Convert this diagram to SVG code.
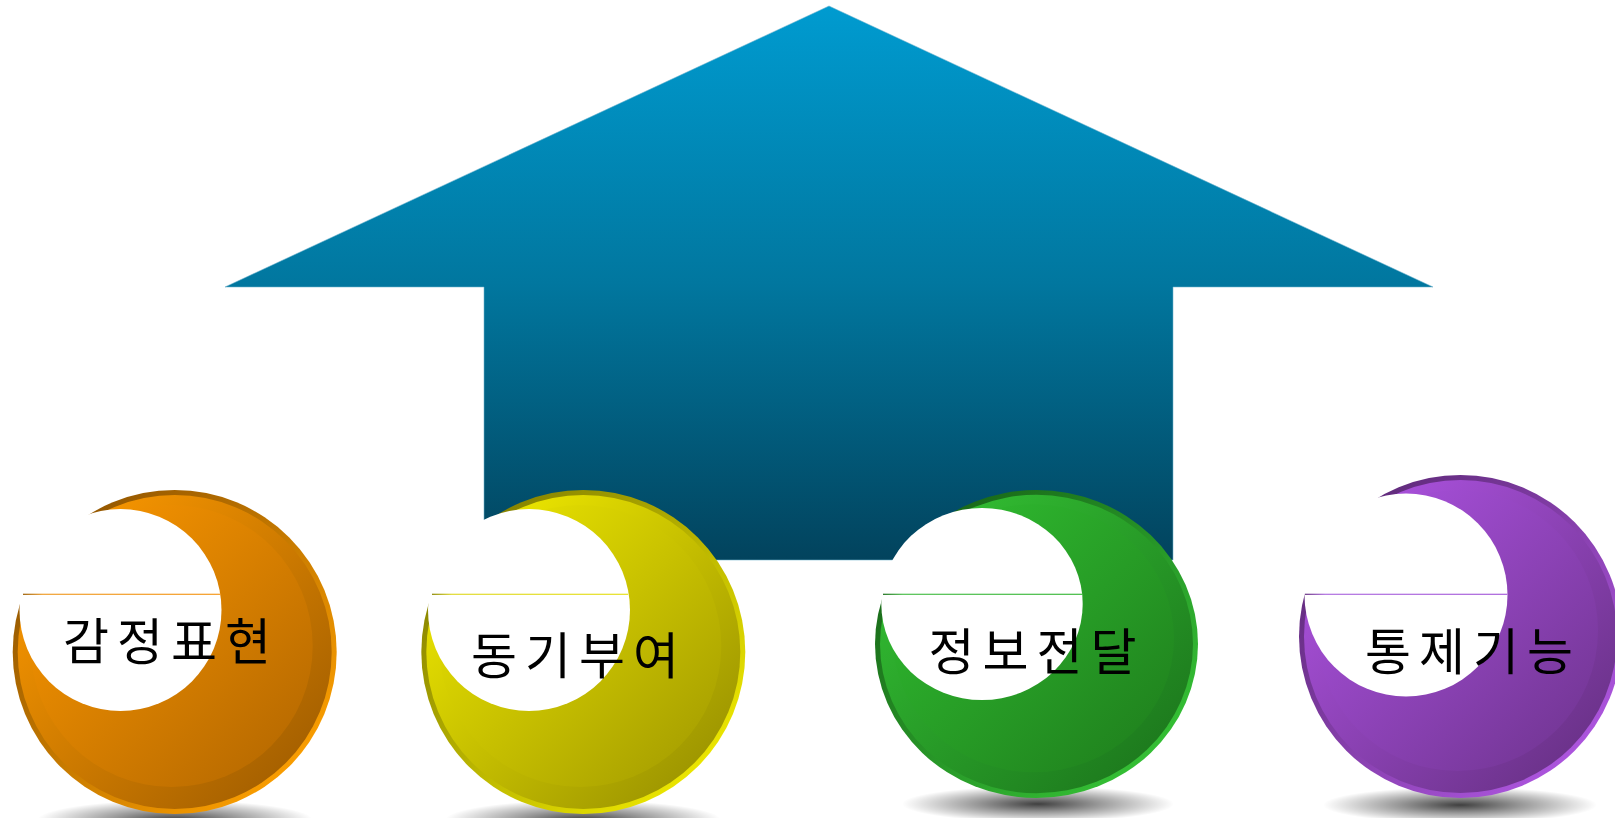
<svg xmlns="http://www.w3.org/2000/svg" width="1615" height="818" viewBox="0 0 1615 818">
<defs>
  <linearGradient id="arrowGrad" x1="0" y1="0" x2="0" y2="1">
    <stop offset="0" stop-color="#009BD0"/>
    <stop offset="0.5" stop-color="#01779F"/>
    <stop offset="1" stop-color="#02435D"/>
  </linearGradient>
  <radialGradient id="shadow" cx="0.5" cy="0.5" r="0.5">
    <stop offset="0" stop-color="#000" stop-opacity="0.75"/>
    <stop offset="0.45" stop-color="#000" stop-opacity="0.4"/>
    <stop offset="1" stop-color="#000" stop-opacity="0"/>
  </radialGradient>
  <!-- orange -->
  <linearGradient id="oOuter" x1="0.15" y1="0.15" x2="0.85" y2="0.85"><stop offset="0" stop-color="#955800"/><stop offset="1" stop-color="#F89C00"/></linearGradient>
  <linearGradient id="oBand" x1="0.15" y1="0.15" x2="0.85" y2="0.85"><stop offset="0" stop-color="#F59400"/><stop offset="1" stop-color="#A86200"/></linearGradient>
  <linearGradient id="oInner" x1="0.15" y1="0.15" x2="0.85" y2="0.85"><stop offset="0" stop-color="#F29100"/><stop offset="1" stop-color="#BC6D00"/></linearGradient>
  <linearGradient id="oLine" x1="0" y1="0" x2="1" y2="0"><stop offset="0" stop-color="#9A5C00"/><stop offset="0.1" stop-color="#F0A030"/><stop offset="1" stop-color="#F59A20"/></linearGradient>
  <!-- yellow -->
  <linearGradient id="yOuter" x1="0.15" y1="0.15" x2="0.85" y2="0.85"><stop offset="0" stop-color="#878300"/><stop offset="1" stop-color="#EAE400"/></linearGradient>
  <linearGradient id="yBand" x1="0.15" y1="0.15" x2="0.85" y2="0.85"><stop offset="0" stop-color="#EAE400"/><stop offset="1" stop-color="#A09800"/></linearGradient>
  <linearGradient id="yInner" x1="0.15" y1="0.15" x2="0.85" y2="0.85"><stop offset="0" stop-color="#E4DE00"/><stop offset="1" stop-color="#ACA400"/></linearGradient>
  <linearGradient id="yLine" x1="0" y1="0" x2="1" y2="0"><stop offset="0" stop-color="#8A8600"/><stop offset="0.1" stop-color="#E0DA30"/><stop offset="1" stop-color="#E6E020"/></linearGradient>
  <!-- green -->
  <linearGradient id="gOuter" x1="0.15" y1="0.15" x2="0.85" y2="0.85"><stop offset="0" stop-color="#196819"/><stop offset="1" stop-color="#34BE34"/></linearGradient>
  <linearGradient id="gBand" x1="0.15" y1="0.15" x2="0.85" y2="0.85"><stop offset="0" stop-color="#31BA31"/><stop offset="1" stop-color="#1E7C1E"/></linearGradient>
  <linearGradient id="gInner" x1="0.15" y1="0.15" x2="0.85" y2="0.85"><stop offset="0" stop-color="#2EB62E"/><stop offset="1" stop-color="#21861F"/></linearGradient>
  <linearGradient id="gLine" x1="0" y1="0" x2="1" y2="0"><stop offset="0" stop-color="#1A6E1A"/><stop offset="0.1" stop-color="#50C050"/><stop offset="1" stop-color="#40BA40"/></linearGradient>
  <!-- purple -->
  <linearGradient id="pOuter" x1="0.15" y1="0.15" x2="0.85" y2="0.85"><stop offset="0" stop-color="#612B7C"/><stop offset="1" stop-color="#AB54DC"/></linearGradient>
  <linearGradient id="pBand" x1="0.15" y1="0.15" x2="0.85" y2="0.85"><stop offset="0" stop-color="#A850DA"/><stop offset="1" stop-color="#6D338C"/></linearGradient>
  <linearGradient id="pInner" x1="0.15" y1="0.15" x2="0.85" y2="0.85"><stop offset="0" stop-color="#A44ED6"/><stop offset="1" stop-color="#77389A"/></linearGradient>
  <linearGradient id="pLine" x1="0" y1="0" x2="1" y2="0"><stop offset="0" stop-color="#663080"/><stop offset="0.1" stop-color="#B070E0"/><stop offset="1" stop-color="#A860DA"/></linearGradient>
</defs>
<style>
  .label { font-family: "Noto Sans CJK KR", "Noto Sans", sans-serif; font-size: 50px; letter-spacing: 8px; fill: #000; text-anchor: middle; }
  .hole { fill: #fff; }
  .shadow { fill: url(#shadow); }
</style>

<g id="arrow">
  <polygon points="829,6 1433,287 1173,287 1173,560 484,560 484,287 225,287" fill="url(#arrowGrad)" stroke="#6FB4CF" stroke-width="0.8" stroke-opacity="0.7"/>
</g>

<g id="node-1">
  <ellipse class="shadow" cx="175" cy="820" rx="138" ry="20"/>
  <circle cx="174.7" cy="652" r="162" fill="url(#oOuter)"/>
  <circle cx="174.7" cy="652" r="157" fill="url(#oBand)"/>
  <circle cx="171.7" cy="646" r="141" fill="url(#oInner)"/>
  <circle class="hole" cx="120.5" cy="610" r="101"/>
  <rect x="23" y="593.7" width="198" height="1.2" fill="url(#oLine)"/>
  <text class="label" x="171" y="660">감정표현</text>
</g>

<g id="node-2">
  <ellipse class="shadow" cx="583" cy="820" rx="138" ry="20"/>
  <circle cx="583.3" cy="652" r="162" fill="url(#yOuter)"/>
  <circle cx="583.3" cy="652" r="157" fill="url(#yBand)"/>
  <circle cx="580.3" cy="646" r="141" fill="url(#yInner)"/>
  <circle class="hole" cx="529" cy="610" r="101"/>
  <rect x="432" y="593.7" width="196" height="1.2" fill="url(#yLine)"/>
  <text class="label" x="579" y="674">동기부여</text>
</g>

<g id="node-3">
  <ellipse class="shadow" cx="1038" cy="804" rx="136" ry="18"/>
  <ellipse cx="1036.5" cy="644" rx="161.5" ry="154" fill="url(#gOuter)"/>
  <ellipse cx="1036.5" cy="644" rx="156.5" ry="149.2" fill="url(#gBand)"/>
  <ellipse cx="1033.5" cy="638.3" rx="140.5" ry="134" fill="url(#gInner)"/>
  <ellipse class="hole" cx="982" cy="604" rx="100.7" ry="96"/>
  <rect x="883" y="593.7" width="200" height="1.2" fill="url(#gLine)"/>
  <text class="label" x="1036.5" y="670">정보전달</text>
</g>

<g id="node-4">
  <ellipse class="shadow" cx="1460" cy="805" rx="137" ry="18"/>
  <circle cx="1460.5" cy="636.5" r="161.5" fill="url(#pOuter)"/>
  <circle cx="1460.5" cy="636.5" r="156.5" fill="url(#pBand)"/>
  <circle cx="1457.5" cy="630.5" r="140.5" fill="url(#pInner)"/>
  <circle class="hole" cx="1406" cy="595" r="101.5"/>
  <rect x="1305" y="593.7" width="202.5" height="1.2" fill="url(#pLine)"/>
  <text class="label" x="1473" y="670">통제기능</text>
</g>
</svg>
